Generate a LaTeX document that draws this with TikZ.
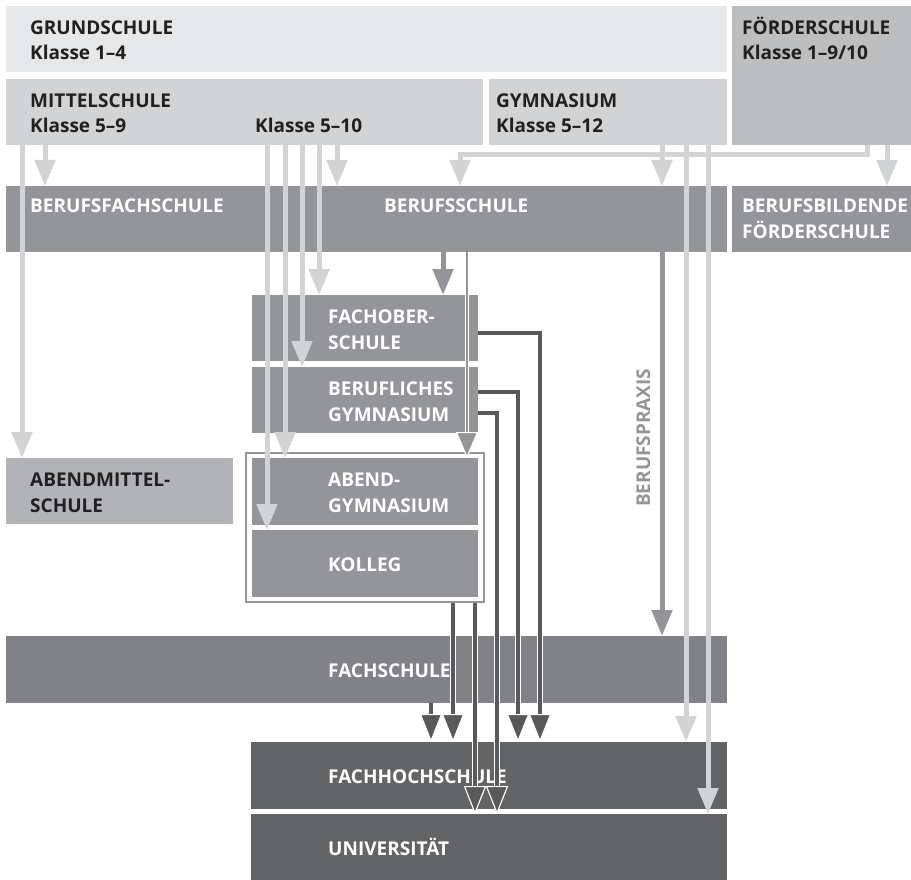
\documentclass[tikz,border=0pt]{standalone}
\usepackage{fontspec}
\setmainfont{Open Sans}
\usetikzlibrary{arrows.meta}
\definecolor{grundC}{HTML}{E6E7E8}
\definecolor{mittelC}{HTML}{D1D3D4}
\definecolor{foerdC}{HTML}{BCBEC0}
\definecolor{amsC}{HTML}{B1B3B6}
\definecolor{bsC}{HTML}{939598}
\definecolor{fasC}{HTML}{818286}
\definecolor{hsC}{HTML}{636466}
\definecolor{pfeilD}{HTML}{58595B}
\definecolor{textD}{HTML}{231F20}
\newcommand{\schulbox}[6]{% name, x, y, breite, hoehe, farbe
	\node[box, fill=#6, minimum width=#4pt, minimum height=#5pt] (#1) at (#2,#3) {};
}
\tikzset{
	box/.style={rectangle, draw=none, inner sep=0pt, outer sep=0pt, anchor=north west},
	lbl/.style={anchor=base west, inner sep=0pt, text=white,
		font=\fontsize{19}{22}\selectfont\bfseries},
	lbldark/.style={lbl, text=textD},
	hell/.style={draw=mittelC, line width=5pt, -{Triangle[width=20pt,length=26pt]}},
	mittel/.style={draw=bsC, line width=5pt, -{Triangle[width=20pt,length=26pt]}},
	mittelrand/.style={draw=bsC, line width=2.5pt,
		preaction={draw=white, line width=4.5pt},
		-{Triangle[width=22pt,length=26pt,fill=bsC,color=white,line width=1pt]}},
	dunkel/.style={draw=pfeilD, line width=3.5pt, line join=miter,
		preaction={draw=white, line width=5.5pt},
		-{Triangle[width=22pt,length=28pt,fill=pfeilD,color=white,line width=1pt]}},
}
\begin{document}
\begin{tikzpicture}[x=1pt, y=-1pt]
	\useasboundingbox (0,0) rectangle (911,880);
	% Allgemeinbildende Schulen
	\schulbox{grund}{6}{6}{721}{66}{grundC}
	\schulbox{foerd}{732}{6}{179}{139}{foerdC}
	\schulbox{mittel}{6}{79}{477}{66}{mittelC}
	\schulbox{gym}{489}{79}{238}{66}{mittelC}
	% Berufsbildende Schulen
	\schulbox{bs}{6}{186}{721}{66}{bsC}
	\schulbox{bbf}{732}{186}{179}{66}{bsC}
	\schulbox{fos}{252}{295}{226}{66}{bsC}
	\schulbox{bgym}{252}{367}{226}{66}{bsC}
	\schulbox{ams}{6}{458}{227}{66}{amsC}
	\draw[bsC, line width=2pt] (246,453) rectangle (484,602);
	\schulbox{abend}{252}{458}{226}{67}{bsC}
	\schulbox{kolleg}{252}{530}{226}{67}{bsC}
	\schulbox{fas}{6}{636}{721}{67}{fasC}
	\schulbox{fhs}{251}{742}{476}{67}{hsC}
	\schulbox{uni}{251}{814}{476}{66}{hsC}

	% Beschriftung
	\node[lbldark] (grundA) at (30,35) {GRUNDSCHULE};
	\node[lbldark] (grundB) at (30,60) {Klasse 1–4};
	\node[lbldark] (foerdA) at (742,35) {FÖRDERSCHULE};
	\node[lbldark] (foerdB) at (742,60) {Klasse 1–9/10};
	\node[lbldark] (mittelA) at (30,108) {MITTELSCHULE};
	\node[lbldark] (mittelB) at (30,133) {Klasse 5–9};
	\node[lbldark] (mittelC) at (255,133) {Klasse 5–10};
	\node[lbldark] (gymA) at (496,108) {GYMNASIUM};
	\node[lbldark] (gymB) at (496,133) {Klasse 5–12};
	\node[lbl] (bfsL) at (30,213) {BERUFSFACHSCHULE};
	\node[lbl] (bsL) at (384,213) {BERUFSSCHULE};
	\node[lbl] (bbfA) at (742,213) {BERUFSBILDENDE};
	\node[lbl] (bbfB) at (742,239) {FÖRDERSCHULE};
	\node[lbl] (fosA) at (328,323) {FACHOBER-};
	\node[lbl] (fosB) at (328,349) {SCHULE};
	\node[lbl] (bgymA) at (328,395) {BERUFLICHES};
	\node[lbl] (bgymB) at (328,421) {GYMNASIUM};
	\node[lbldark] (amsA) at (30,486) {ABENDMITTEL-};
	\node[lbldark] (amsB) at (30,512) {SCHULE};
	\node[lbl] (abendA) at (328,486) {ABEND-};
	\node[lbl] (abendB) at (328,512) {GYMNASIUM};
	\node[lbl] (kollegL) at (328,571) {KOLLEG};
	\node[lbl] (fasL) at (328,677) {FACHSCHULE};
	\node[lbl] (fhsL) at (328,783) {FACHHOCHSCHULE};
	\node[lbl] (uniL) at (328,855) {UNIVERSITÄT};
	\node[lbl, text=bsC, rotate=90] (praxis) at (650,507) {BERUFSPRAXIS};

	% Uebergaenge aus Mittelschule und Gymnasium
	\coordinate (knick) at (460,155);
	\draw[hell] (22,0 |- mittel.south) -- (22,0 |- ams.north);
	\draw[hell] (45,0 |- mittel.south) -- (45,0 |- bs.north);
	\draw[hell] (337,0 |- mittel.south) -- (337,0 |- bs.north);
	\draw[hell] (867,0 |- foerd.south) -- (867,0 |- knick) -| (knick |- bs.north);
	\draw[hell] (662,0 |- gym.south) -- (662,0 |- bs.north);
	\draw[hell] (887,0 |- foerd.south) -- (887,0 |- bbf.north);

	% Mittelpfeile aus der Berufsschule
	\draw[mittel] (443,0 |- bs.south) -- (443,0 |- fos.north);
	\draw[mittelrand] (467,0 |- bs.south) -- (467,0 |- abend.north);
	\draw[mittel] (662,0 |- bs.south) -- (662,0 |- fas.north);

	% lange Pfeile
	\draw[hell] (267,0 |- mittel.south) -- (267,0 |- kolleg.north);
	\draw[hell] (285,0 |- mittel.south) -- (285,0 |- abend.north);
	\draw[hell] (302,0 |- mittel.south) -- (302,0 |- bgym.north);
	\draw[hell] (319,0 |- mittel.south) -- (319,0 |- fos.north);
	\draw[hell] (686,0 |- gym.south) -- (686,0 |- fhs.north);
	\draw[hell] (708,0 |- gym.south) -- (708,0 |- uni.north);

	% Hochschulzugang
	\draw[dunkel] (431,0 |- fas.south) -- (431,0 |- fhs.north);
	\draw[dunkel] (453,603) -- (453,0 |- fhs.north);
	\draw[dunkel] (475,603) -- (475,0 |- uni.north);
	\draw[dunkel] ([yshift=-13pt]bgym.east) -| (497,0 |- uni.north);
	\draw[dunkel] ([yshift=8pt]bgym.east) -| (518,0 |- fhs.north);
	\draw[dunkel] ([yshift=-5pt]fos.east) -| (540,0 |- fhs.north);
\end{tikzpicture}
\end{document}
